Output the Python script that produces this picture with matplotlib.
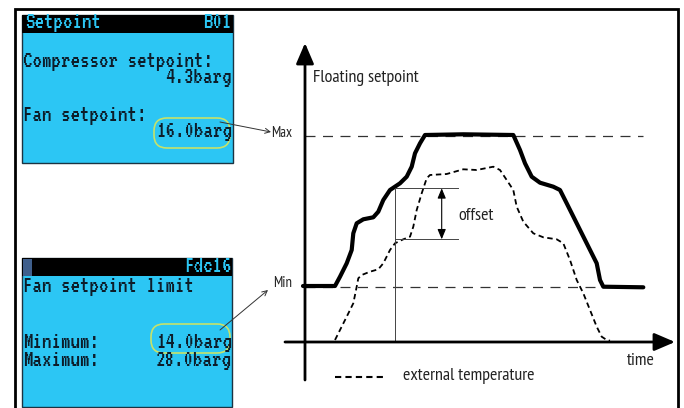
import matplotlib.pyplot as plt
from matplotlib.patches import Rectangle, FancyBboxPatch, ConnectionPatch

W, H = 684, 408

# diagram values: time and level, both in diagram units
setpoint_t = [-2, 30, 35, 41.7, 46.7, 48.3, 51.7, 58.3, 68.3, 73.3, 78.3, 85, 95,
              101.7, 106.7, 110, 115, 120, 158.3, 208.3, 215, 220, 226.7, 235,
              248.3, 255, 261.7, 271.7, 281.7, 291.7, 295, 298.3, 338.3]
setpoint_v = [56, 56, 65.3, 78.7, 92, 108.7, 118.7, 122.7, 124.7, 130.3, 142, 152,
              158.7, 165.3, 175.3, 188.7, 198.7, 207, 207.7, 207, 192, 178.7, 165.3,
              159.3, 155.3, 152, 138.7, 118.7, 98.7, 78.7, 62, 55.3, 54.7]

temp_t = [30, 35, 41.7, 48.3, 51.7, 53.3, 56.7, 65, 73.3, 78.3, 85, 90, 98.3, 105,
          108.3, 111.7, 116.7, 121.7, 125, 141.7, 158.3, 171.7, 188.3, 195, 201.7,
          208.3, 211.7, 218.3, 228.3, 238.3, 251.7, 258.3, 265, 271.7, 278.3, 285,
          291.7, 296.7, 301.7, 305]
temp_v = [2, 12, 25.3, 38.7, 55.3, 63.7, 67, 70.3, 72.7, 78.7, 92, 98.7, 102.7, 105.3,
          115.3, 132, 148.7, 163.7, 167, 168, 172.7, 172, 175.3, 172, 162, 152, 135.3,
          120.3, 108.7, 104.7, 102.7, 98.7, 82, 62, 48.7, 32, 15.3, 5.3, 2, 1.3]

level_max = 206
level_min = 55.5
time_end = 338
offset_t = 90
offset_hi = 153.7
offset_lo = 102.7

# LCD screens
screen1_title, screen1_code = "Setpoint", "B01"
screen1_rows = ["Compressor setpoint:", "4.3barg", "Fan setpoint:", "16.0barg"]
screen2_code = "Fdc16"
screen2_rows = ["Fan setpoint limit", "Minimum:", "14.0barg", "Maximum:", "28.0barg"]

CYAN = '#2cc6f4'
INK = '#0d1d2a'
RING = '#c6e26a'
LCD = ['VT323', 'DejaVu Sans Mono']
LCD_SIZE = 17
SANS = ['PT Sans Narrow', 'DejaVu Sans']

fig = plt.figure(figsize=(W / 100, H / 100), dpi=100)

# background layer in pixel coordinates
bg = fig.add_axes([0, 0, 1, 1])
bg.set_xlim(0, W)
bg.set_ylim(H, 0)
bg.axis('off')

bg.plot([15, 15, 678, 678], [H + 5, 9, 9, H + 5], color='black', lw=2,
        solid_joinstyle='miter')


def lcd(x, y, s, color=INK, ha='left'):
    bg.text(x, y, s, color=color, family=LCD, fontsize=LCD_SIZE, va='center', ha=ha)


# screen 1
bg.add_patch(Rectangle((22, 15), 211, 148, fc=CYAN, ec='#1b3342', lw=1))
bg.add_patch(Rectangle((22, 15), 211, 18, fc='black', ec='none'))
lcd(25, 23.5, screen1_title, CYAN)
lcd(232, 23.5, screen1_code, CYAN, 'right')
lcd(23, 62, screen1_rows[0])
lcd(232, 78, screen1_rows[1], ha='right')
lcd(23, 116, screen1_rows[2])
lcd(232, 132, screen1_rows[3], ha='right')
bg.add_patch(FancyBboxPatch((154, 118), 76, 30, boxstyle="round,pad=0,rounding_size=13",
                            fc='none', ec=RING, lw=1.2))

# screen 2
bg.add_patch(Rectangle((22, 258), 210, 149, fc=CYAN, ec='#1b3342', lw=1))
bg.add_patch(Rectangle((22, 258), 210, 18, fc='black', ec='none'))
bg.add_patch(Rectangle((23, 259), 9, 17, fc='#3f5f8c', ec='none'))
lcd(232, 266.5, screen2_code, CYAN, 'right')
lcd(23, 287, screen2_rows[0])
lcd(23, 343.5, screen2_rows[1])
lcd(232, 343.5, screen2_rows[2], ha='right')
lcd(23, 360.5, screen2_rows[3])
lcd(232, 360.5, screen2_rows[4], ha='right')
bg.add_patch(FancyBboxPatch((151, 324), 79, 29, boxstyle="round,pad=0,rounding_size=13",
                            fc='none', ec=RING, lw=1.2))

# diagram
ax = fig.add_axes([236 / W, 0, 448 / W, 372 / H])
ax.set_xlim(-69, 379)
ax.set_ylim(-66, 306)
ax.axis('off')

axis_arrow = dict(arrowstyle='-|>,head_length=0.7,head_width=0.3', lw=2,
                  color='black', mutation_scale=18, shrinkA=0, shrinkB=0)
ax.annotate('', xy=(0, 299), xytext=(0, -38), arrowprops=axis_arrow)
ax.annotate('', xy=(370, 0), xytext=(-20, 0), arrowprops=axis_arrow)

ax.plot([0, time_end], [level_max, level_max], ls=(0, (8, 6)), lw=0.9, color='#333333')
ax.plot([0, time_end], [level_min, level_min], ls=(0, (8, 6)), lw=0.9, color='#333333')

ax.plot(temp_t, temp_v, ls=(0, (3, 2)), lw=1.3, color='black')
ax.plot(setpoint_t, setpoint_v, lw=3, color='black', solid_capstyle='round',
        solid_joinstyle='round')

# offset marker
ax.plot([offset_t, offset_t], [0, offset_hi], lw=0.7, color='#444444')
ax.plot([offset_t, 153.3], [offset_hi, offset_hi], lw=0.7, color='#444444')
ax.plot([offset_t, 153.3], [offset_lo, offset_lo], lw=0.7, color='#444444')
ax.annotate('', xy=(136.7, offset_lo), xytext=(136.7, offset_hi),
            arrowprops=dict(arrowstyle='<|-|>,head_length=0.6,head_width=0.25', lw=0.8,
                            color='black', mutation_scale=10, shrinkA=0, shrinkB=0))
ax.text(153, 126, 'offset', family=SANS, fontsize=13, ha='left', va='center', color='#222222')

ax.text(8.3, 264, 'Floating setpoint', family=SANS, fontsize=13, ha='left', va='center', color='#222222')
ax.text(335.7, -19, 'time', family=SANS, fontsize=13, ha='center', va='center', color='#222222')
ax.plot([30, 81.7], [-34.7, -34.7], ls=(0, (3, 2)), lw=1.5, color='black')
ax.text(98.3, -33.5, 'external temperature', family=SANS, fontsize=13, ha='left', va='center', color='#222222')

ax.text(-13.3, 209.3, 'Max', family=SANS, fontsize=10.5, ha='right', va='center', color='#222222')
ax.text(-13.3, 58.7, 'Min', family=SANS, fontsize=10.5, ha='right', va='center', color='#222222')

# pointers from the screens to the levels
for start, end in [((220, 122), (-34, 210)), ((220, 330), (-37, 52))]:
    con = ConnectionPatch(xyA=start, coordsA=bg.transData, xyB=end, coordsB=ax.transData,
                          arrowstyle='->', lw=0.7, color='#333333', mutation_scale=9)
    fig.add_artist(con)

fig.savefig('out.png', dpi=100)
